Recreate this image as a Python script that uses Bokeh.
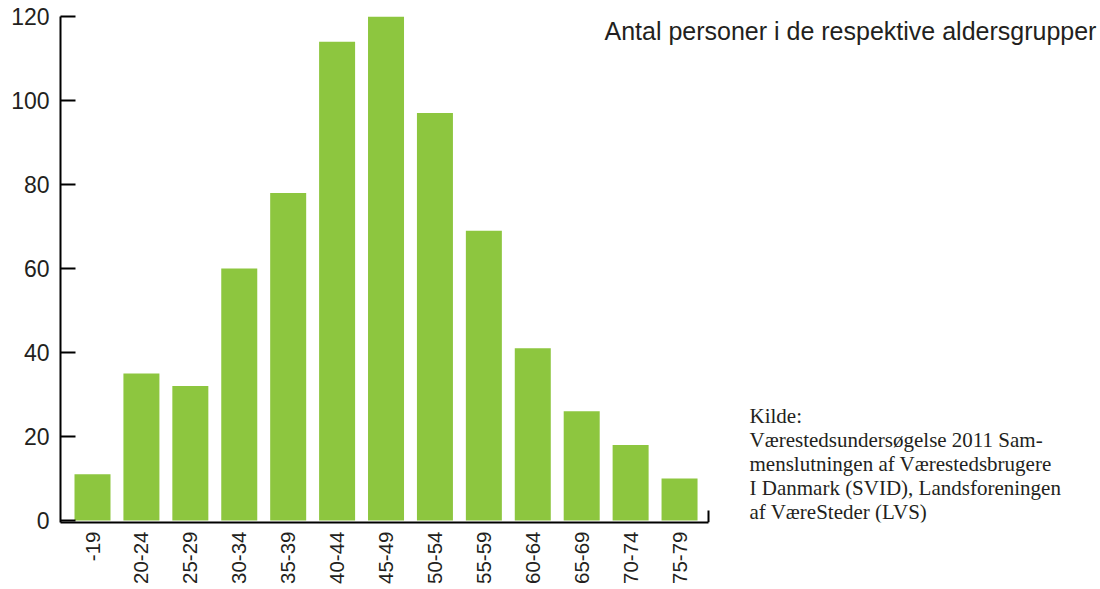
import math
from bokeh.plotting import figure
from bokeh.models import Range1d, FixedTicker, Label
from bokeh.embed import file_html
from bokeh.resources import INLINE

# ---- data ----
age_groups = ["-19", "20-24", "25-29", "30-34", "35-39", "40-44", "45-49",
              "50-54", "55-59", "60-64", "65-69", "70-74", "75-79"]
persons = [11, 35, 32, 60, 78, 114, 120, 97, 69, 41, 26, 18, 10]
y_ticks = [0, 20, 40, 60, 80, 100, 120]
title_text = "Antal personer i de respektive aldersgrupper"
source_lines = ["Kilde:",
                "Værestedsundersøgelse 2011 Sam-",
                "menslutningen af Værestedsbrugere",
                "I Danmark (SVID), Landsforeningen",
                "af VæreSteder (LVS)"]

# ---- layout (pixels) ----
W, H = 1100, 589
FL, FT = 60, 16                   # frame left / top (top = value 120)
ZERO_PX = 520                     # pixel row of value 0
FB = 522                          # frame bottom = x axis line
AXIS_END_PX = 708                 # where the x axis line stops
PITCH = 48.92                     # px per category
FIRST_CENTER_PX = 92
PX_PER_UNIT = (ZERO_PX - FT) / 120.0
X0 = -(FIRST_CENTER_PX - FL) / PITCH
X1 = X0 + (W - FL) / PITCH        # frame reaches the right edge (for texts)
X_END = X0 + (AXIS_END_PX - FL) / PITCH
Y1 = 120
Y0 = -(FB - ZERO_PX) / PX_PER_UNIT
BAR_W = 36 / PITCH
GREEN = "#8DC63F"
INK = "#231F20"
SANS = "Liberation Sans"
SERIF = "Liberation Serif"


def px_to_x(cx):
    return X0 + (cx - FL) / PITCH


def px_to_y(cy):
    return Y1 - (cy - FT) / PX_PER_UNIT


p = figure(width=W, height=H, output_backend="svg", toolbar_location=None,
           x_range=Range1d(X0, X1), y_range=Range1d(Y0, Y1),
           min_border_left=FL, min_border_right=0,
           min_border_top=FT, min_border_bottom=H - FB)
p.background_fill_color = "white"
p.border_fill_color = "white"
p.outline_line_color = None
p.grid.visible = False

xs = list(range(len(age_groups)))
p.vbar(x=xs, top=persons, bottom=0, width=BAR_W, fill_color=GREEN, line_color=None)

# x axis
xa = p.xaxis[0]
xa.bounds = (X0, X_END)
xa.ticker = FixedTicker(ticks=xs)
xa.major_label_overrides = {i: lab for i, lab in zip(xs, age_groups)}
xa.major_label_orientation = math.pi / 2
xa.major_tick_in = 0
xa.major_tick_out = 0
xa.major_tick_line_color = None
xa.minor_tick_line_color = None
xa.axis_line_width = 2
xa.axis_line_color = "black"
xa.major_label_standoff = 9
xa.major_label_text_font = SANS
xa.major_label_text_font_size = "20.5px"
xa.major_label_text_color = INK

# end-stop at right end of the x axis (12 px tall)
stop_h = 12 / PX_PER_UNIT
p.segment(x0=[X_END], y0=[Y0], x1=[X_END], y1=[Y0 + stop_h],
          line_color="black", line_width=2)

# y axis
ya = p.yaxis[0]
ya.ticker = FixedTicker(ticks=y_ticks)
ya.major_tick_in = 15
ya.major_tick_out = 0
ya.major_tick_line_width = 2
ya.major_tick_line_color = "black"
ya.minor_tick_line_color = None
ya.axis_line_width = 2
ya.axis_line_color = "black"
ya.major_label_standoff = 11
ya.major_label_text_font = SANS
ya.major_label_text_font_size = "23px"
ya.major_label_text_color = INK

# title
p.add_layout(Label(x=px_to_x(604), y=px_to_y(30), text=title_text,
                   text_font=SANS, text_font_size="25px", text_color=INK,
                   text_align="left", text_baseline="alphabetic"))

# source
for i, line in enumerate(source_lines):
    p.add_layout(Label(x=px_to_x(749), y=px_to_y(415 + 24 * i), text=line,
                       text_font=SERIF, text_font_size="21px", text_color=INK,
                       text_align="left", text_baseline="alphabetic"))

open("out.html", "w").write(file_html(p, INLINE))
